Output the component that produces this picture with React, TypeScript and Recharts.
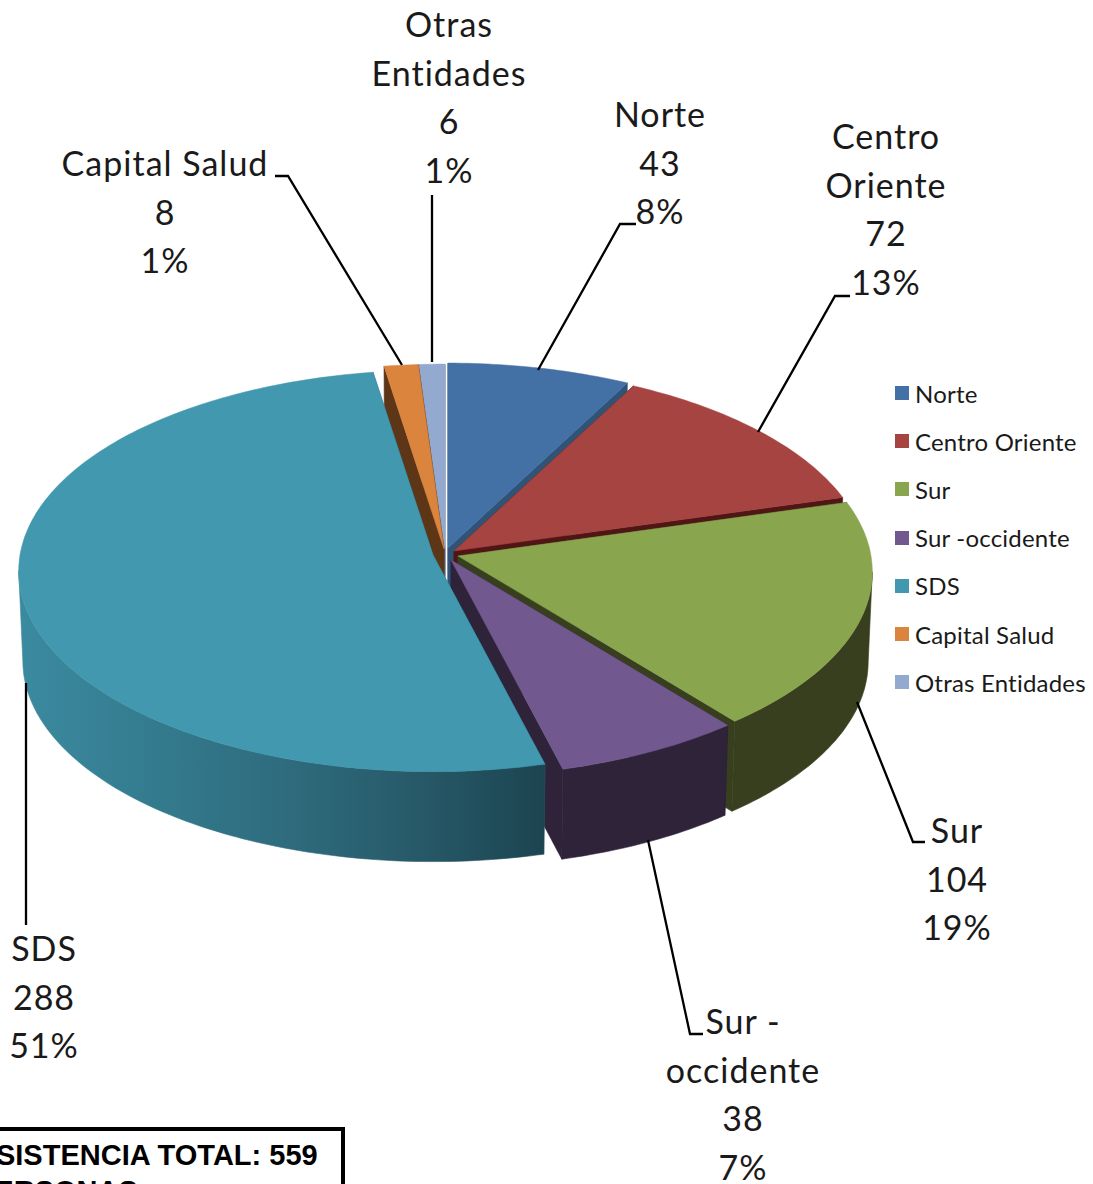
import React from "react";
import { PieChart, Pie, Legend } from "recharts";

const NAMES = ["Norte", "Centro Oriente", "Sur", "Sur -occidente", "SDS", "Capital Salud", "Otras Entidades"];
const VALUES = [43, 72, 104, 38, 288, 8, 6];
const PERCENT_LABELS = ["8%", "13%", "19%", "7%", "51%", "1%", "1%"];
const LABEL_NAME_LINES = [["Norte"], ["Centro", "Oriente"], ["Sur"], ["Sur -", "occidente"], ["SDS"], ["Capital Salud"], ["Otras", "Entidades"]];
const TOP_COLORS = ["#4371A5", "#A64441", "#89A54E", "#71588F", "#4198AF", "#DB843D", "#93A9CF"];
const SIDE_COLORS = ["#2F5478", "#4F1615", "#383F1E", "#2E2339", "#2F6E80", "#5D3617", "#5E6F8F"];
const PAINT_ORDER = [6, 5, 0, 1, 2, 3, 4];

// Layout of each slice: displacement of its apex from the pie centre.
const EXPLODE = [[3, -7], [9, -4], [13, 1], [6, 5], [-12, 0], [-1, -6], [0, -6]];
const LABEL_POS = [[660, 115], [886, 137], [957, 831], [743, 1022], [44, 949], [165, 164], [449, 25]];
const LEADERS = [
  [[636, 224], [620, 224], [538, 370]],
  [[850, 296], [835, 296], [758, 432]],
  [[925, 842], [913, 842], [857, 702]],
  [[703, 1034], [690, 1034], [648, 840]],
  [[26, 925], [26, 683]],
  [[275, 176], [288, 176], [402, 365]],
  [[432, 195], [432, 362]],
];
const RX = 413, RY = 199.5, PERSP = 0.079, DEPTH = 90, BOTTOM_SCALE = 0.99;

const rows = NAMES.map((name, i) => ({ name, value: VALUES[i], fill: TOP_COLORS[i] }));

function pt(t: number, ox: number, oy: number, lower: boolean): [number, number] {
  const r = (t * Math.PI) / 180;
  const u = Math.sin(r), v = -Math.cos(r);
  const w = 1 - PERSP * v;
  const s = lower ? BOTTOM_SCALE : 1;
  return [ox + (RX * u * s) / w, oy + (RY * v) / w + (lower ? DEPTH : 0)];
}
function arc(t0: number, t1: number, ox: number, oy: number, lower: boolean) {
  const n = Math.max(2, Math.ceil(Math.abs(t1 - t0)));
  const out: [number, number][] = [];
  for (let i = 0; i <= n; i++) out.push(pt(t0 + ((t1 - t0) * i) / n, ox, oy, lower));
  return out;
}
const toPath = (p: [number, number][]) => "M" + p.map((q) => q[0].toFixed(1) + "," + q[1].toFixed(1)).join("L") + "Z";

function Slice(props: any, layer: number) {
  const i = NAMES.indexOf(props.name);
  if (i !== layer) return <g />;
  const ox = props.cx + EXPLODE[i][0], oy = props.cy + EXPLODE[i][1];
  const t0 = 90 - props.startAngle, t1 = 90 - props.endAngle;
  const apex: [number, number] = [ox, oy];
  const apexLow: [number, number] = [ox, oy + DEPTH];
  const side = SIDE_COLORS[i];
  const a = Math.max(t0, 94.5), b = Math.min(t1, 265.5);
  const isSds = NAMES[i] === "SDS";
  const wall = isSds ? "url(#sdsWall)" : side;
  return (
    <g>
      {isSds && (
        <defs>
          <linearGradient id="sdsWall" gradientUnits="userSpaceOnUse" x1={20} y1={0} x2={545} y2={0}>
            <stop offset="0" stopColor="#3B8AA0" />
            <stop offset="0.3" stopColor="#33788B" />
            <stop offset="0.5" stopColor="#2E6C7E" />
            <stop offset="0.75" stopColor="#275A69" />
            <stop offset="1" stopColor="#1C4450" />
          </linearGradient>
        </defs>
      )}
      <path d={toPath([apex, pt(t0, ox, oy, false), pt(t0, ox, oy, true), apexLow])} fill={side} stroke={side} strokeWidth={0.6} />
      <path d={toPath([apex, pt(t1, ox, oy, false), pt(t1, ox, oy, true), apexLow])} fill={side} stroke={side} strokeWidth={0.6} />
      {b > a && (
        <path
          d={toPath([...arc(a, b, ox, oy, false), ...arc(b, a, ox, oy, true)])}
          fill={wall}
          stroke={wall}
          strokeWidth={0.6}
        />
      )}
      <path d={toPath([apex, ...arc(t0, t1, ox, oy, false)])} fill={TOP_COLORS[i]} stroke={TOP_COLORS[i]} strokeWidth={0.5} />
    </g>
  );
}

function SliceLabel(props: any) {
  const i = NAMES.indexOf(props.name);
  const [x, y] = LABEL_POS[i];
  const lines = [...LABEL_NAME_LINES[i], String(VALUES[i]), PERCENT_LABELS[i]];
  return (
    <g>
      <polyline points={LEADERS[i].map((p) => p.join(",")).join(" ")} fill="none" stroke="#000" strokeWidth={2.3} />
      <text x={x} y={y} textAnchor="middle" fontFamily="Lato" fontSize={34} letterSpacing={1} fill="#1a1a1a">
        {lines.map((l, k) => (
          <tspan key={k} x={x} y={y + k * 48.6} dy="0.35em">{l}</tspan>
        ))}
      </text>
    </g>
  );
}

function LegendBox({ payload }: any) {
  const entries = NAMES.map((n) => (payload || []).find((e: any) => e.value === n)).filter(Boolean);
  return (
    <div style={{ fontFamily: "Lato", fontSize: 24, letterSpacing: 0.2, color: "#1a1a1a" }}>
      {entries.map((e: any) => (
        <div key={e.value} style={{ height: 48.2, display: "flex", alignItems: "center", whiteSpace: "nowrap" }}>
          <span style={{ width: 14, height: 14, background: e.color, marginRight: 6, flex: "none" }} />
          <span>{e.value}</span>
        </div>
      ))}
    </div>
  );
}

export default function App() {
  return (
    <div style={{ position: "absolute", left: 0, top: 0, width: 1093, height: 1184, overflow: "hidden", background: "#fff" }}>
      <PieChart width={1093} height={1184} margin={{ top: 0, right: 0, bottom: 0, left: 0 }}>
        {PAINT_ORDER.map((layer, n) => (
          <Pie
            key={layer}
            data={rows}
            dataKey="value"
            nameKey="name"
            cx={445}
            cy={555}
            outerRadius={200}
            startAngle={90}
            endAngle={-270}
            stroke="none"
            isAnimationActive={false}
            legendType={n === 0 ? "square" : "none"}
            shape={(p: any) => Slice(p, layer)}
            label={n === PAINT_ORDER.length - 1 ? (p: any) => <SliceLabel {...p} /> : false}
            labelLine={false}
          />
        ))}
        <Legend
          layout="vertical"
          align="right"
          verticalAlign="top"
          wrapperStyle={{ left: 895, top: 369, width: 198, right: "auto", bottom: "auto" }}
          content={(p: any) => <LegendBox {...p} />}
        />
      </PieChart>
      <div
        style={{
          position: "absolute",
          left: -30,
          top: 1127,
          width: 375,
          height: 120,
          boxSizing: "border-box",
          border: "4px solid #000",
          background: "#fff",
          fontFamily: "Liberation Sans",
          fontWeight: "bold",
          fontSize: 29,
          lineHeight: "36px",
          color: "#000",
          padding: "6px 0 0 1px",
          whiteSpace: "nowrap",
        }}
      >
        ASISTENCIA TOTAL: 559
        <br />
        PERSONAS
      </div>
    </div>
  );
}
